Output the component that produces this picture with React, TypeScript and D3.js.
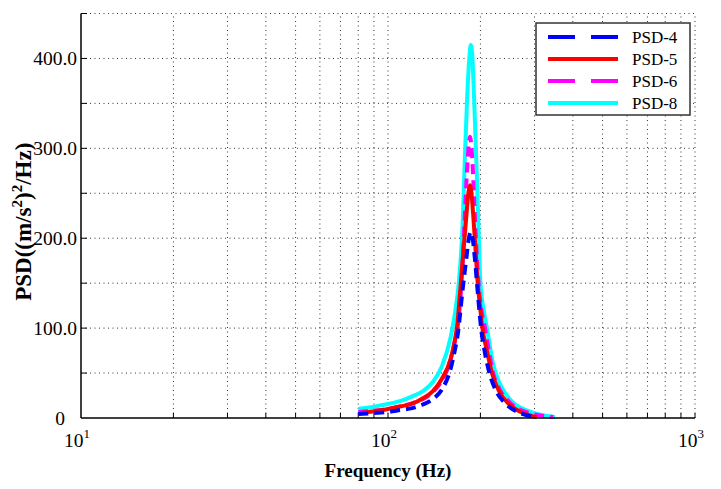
import React from "react";
import * as d3 from "d3";

const xTickExps = [1, 2, 3];
const yTickValues = [0, 100, 200, 300, 400];
const yTickLabels = ["0", "100.0", "200.0", "300.0", "400.0"];
const yGridValues = [50, 100, 150, 200, 250, 300, 350, 400, 450];

const seriesNames = ["PSD-4", "PSD-5", "PSD-6", "PSD-8"];

const freq8 = [80, 90, 100, 110, 120, 130, 140, 150, 160, 165, 170, 175, 178, 181, 184, 186, 188, 191, 194, 197, 200, 205, 210, 220, 230, 245, 260, 280, 300, 325, 350];
const psd8 = [10, 12.5, 15.5, 19, 24, 30, 40, 58, 90, 115, 150, 215, 290, 355, 400, 415, 405, 350, 285, 215, 150, 120, 100, 60, 40, 24, 15, 9, 5.5, 2.5, 1.2];

const freq6 = [80, 90, 100, 110, 120, 130, 140, 150, 160, 165, 170, 173, 176, 179, 182, 185, 188, 191, 194, 198, 202, 207, 213, 220, 230, 245, 260, 280, 300, 325, 345];
const psd6 = [6.7, 8, 10, 13, 16.5, 21, 29, 42, 65, 85, 112, 143, 190, 245, 290, 313, 290, 240, 190, 143, 118, 100, 75, 50, 33, 20, 12, 7, 4, 2, 1];

const freq5 = [82, 90, 100, 110, 120, 130, 140, 150, 160, 165, 168, 172, 176, 180, 183, 185, 187, 190, 193, 196, 200, 203, 210, 218, 230, 245, 260, 280, 300, 305];
const psd5 = [5.5, 7.5, 10, 13, 16, 22, 30, 44, 66, 86, 103, 143, 185, 225, 252, 259, 250, 220, 185, 150, 120, 100, 75, 50, 30, 17, 10, 4.5, 1.5, 0.8];

const freq4 = [80, 90, 100, 110, 120, 130, 140, 150, 160, 165, 169, 175, 180, 183, 186, 189, 192, 196, 201, 207, 214, 225, 240, 260, 280, 295];
const psd4 = [4.5, 5.5, 6.7, 9, 11, 15, 21, 32, 55, 75, 95, 143, 178, 198, 207, 198, 176, 140, 100, 72, 50, 30, 17, 8, 3.5, 1.5];

const W = 721;
const H = 489;
const L = 81, R = 695, T = 13.5, B = 418;

export default function App() {
  const x = d3.scaleLog().domain([10, 1000]).range([L, R]);
  const y = d3.scaleLinear().domain([0, 450]).range([B, T]);

  const line = d3
    .line<[number, number]>()
    .x((d) => x(d[0]))
    .y((d) => y(d[1]))
    .curve(d3.curveMonotoneX);

  const zip = (f: number[], v: number[]) => f.map((d, i) => [d, v[i]] as [number, number]);

  const series = [
    { name: "PSD-8", data: zip(freq8, psd8), color: "#00ffff", dash: null },
    { name: "PSD-6", data: zip(freq6, psd6), color: "#ff00ff", dash: "10,6" },
    { name: "PSD-5", data: zip(freq5, psd5), color: "#ff0000", dash: null },
    { name: "PSD-4", data: zip(freq4, psd4), color: "#0000ff", dash: "10,6" },
  ];
  const legendStyle: Record<string, { color: string; dash: string | null }> = {
    "PSD-4": { color: "#0000ff", dash: "27,16" },
    "PSD-5": { color: "#ff0000", dash: null },
    "PSD-6": { color: "#ff00ff", dash: "27,16" },
    "PSD-8": { color: "#00ffff", dash: null },
  };

  const minorTicks: number[] = [];
  for (let e = 1; e <= 2; e++) {
    for (let m = 2; m <= 10; m++) minorTicks.push(m * Math.pow(10, e));
  }

  const font = "'Liberation Serif', 'Times New Roman', serif";
  const gridStyle = { stroke: "#333", strokeWidth: 1, strokeDasharray: "1,3.5" };

  return (
    <svg width={W} height={H} style={{ position: "absolute", left: 0, top: 0, background: "#fff" }} fontFamily={font}>
      <rect x={0} y={0} width={W} height={H} fill="#fff" />
      {minorTicks.map((f) => (
        <line key={"vg" + f} x1={x(f)} x2={x(f)} y1={B} y2={T} {...gridStyle} />
      ))}
      {yGridValues.map((v) => (
        <line key={"hg" + v} x1={L} x2={R} y1={y(v)} y2={y(v)} {...gridStyle} />
      ))}
      {minorTicks.map((f) => (
        <line key={"xt" + f} x1={x(f)} x2={x(f)} y1={B} y2={B - 5} stroke="#000" strokeWidth={1} />
      ))}
      {yGridValues.map((v) => (
        <line key={"yt" + v} x1={L} x2={L + 6} y1={y(v)} y2={y(v)} stroke="#000" strokeWidth={1} />
      ))}
      {series.map((s) => (
        <path
          key={s.name}
          d={line(s.data) || ""}
          fill="none"
          stroke={s.color}
          strokeWidth={4}
          strokeDasharray={s.dash || undefined}
          strokeLinejoin="round"
        />
      ))}
      <line x1={L} x2={L} y1={T} y2={B} stroke="#000" strokeWidth={1.5} />
      <line x1={L} x2={R} y1={B} y2={B} stroke="#000" strokeWidth={1.5} />
      {yTickValues.map((v, i) =>
        v === 0 ? (
          <text key={"yl" + v} x={60} y={y(v)} dy="0.35em" fontSize={19.5} textAnchor="middle" fill="#000">
            {yTickLabels[i]}
          </text>
        ) : (
          <text key={"yl" + v} x={L - 4} y={y(v)} dy="0.35em" fontSize={19.5} textAnchor="end" fill="#000">
            {yTickLabels[i]}
          </text>
        )
      )}
      {xTickExps.map((e) => (
        <text key={"xl" + e} x={x(Math.pow(10, e)) - 4} y={447} fontSize={19.5} textAnchor="middle" fill="#000">
          10
          <tspan fontSize={13} dy={-9}>
            {e}
          </tspan>
        </text>
      ))}
      <text x={(L + R) / 2} y={477} fontSize={19} fontWeight="bold" textAnchor="middle" fill="#000">
        Frequency (Hz)
      </text>
      <text
        transform={`translate(31, ${(T + B) / 2 + 6}) rotate(-90)`}
        fontSize={23}
        fontWeight="bold"
        textAnchor="middle"
        fill="#000"
      >
        PSD((m/s
        <tspan fontSize={15} dy={-9}>2</tspan>
        <tspan dy={9}>)</tspan>
        <tspan fontSize={15} dy={-9}>2</tspan>
        <tspan dy={9}>/Hz)</tspan>
      </text>
      <rect x={536} y={23} width={154} height={92} fill="#fff" stroke="#333" strokeWidth={1.5} />
      {seriesNames.map((n, i) => {
        const ly = 37 + i * 22;
        const st = legendStyle[n];
        return (
          <g key={"lg" + n}>
            <line x1={548} x2={618} y1={ly} y2={ly} stroke={st.color} strokeWidth={4} strokeDasharray={st.dash || undefined} />
            <text x={632} y={ly} dy="0.35em" fontSize={17} fill="#000">
              {n}
            </text>
          </g>
        );
      })}
    </svg>
  );
}
